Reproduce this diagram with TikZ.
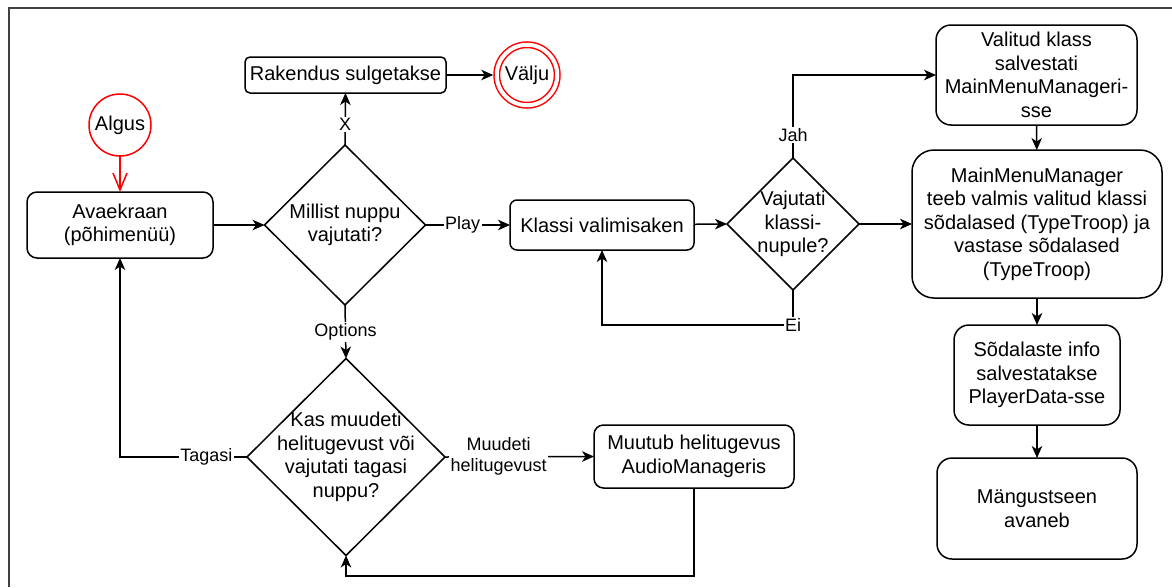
\documentclass[tikz,border=0pt]{standalone}
\usepackage{fontspec}
\setmainfont{Liberation Sans}
\usetikzlibrary{shapes.geometric,arrows.meta}
\begin{document}
\begin{tikzpicture}[x=1pt,y=-1pt,
  every node/.style={font=\fontsize{20}{23.5}\selectfont, align=center, inner sep=0pt, outer sep=0pt},
  box/.style={draw, line width=1.5pt, rectangle},
  dia/.style={draw, line width=1.5pt, diamond},
  txt/.style={},
  lab/.style={fill=white, inner sep=1.5pt, font=\fontsize{18}{21}\selectfont},
  arr/.style={line width=1.5pt, -{Stealth[length=12pt,width=10.5pt,inset=3.5pt]}},
  frame/.style={line width=1.8pt, black!75}
]
\useasboundingbox (0,0) rectangle (1172,587);
\draw[frame] (9,587) -- (9,8) -- (1172,8);

% nodes
\node[circle, draw=red, line width=1.5pt, minimum size=62pt] (alg) at (120,125) {Algus};
\node[box, rounded corners=10pt, minimum width=186pt, minimum height=66pt] (ava) at (120,225) {Avaekraan\\(põhimenüü)};
\node[dia, minimum width=161pt, minimum height=160pt] (mil) at (345,225) {};
\node[txt] (milt) at (mil) {Millist nuppu\\vajutati?};
\node[box, rounded corners=5pt, minimum width=201pt, minimum height=36pt] (rak) at (345.5,75) {Rakendus sulgetakse};
\node[circle, draw=red, line width=1.5pt, double, double distance=4pt, minimum size=60.5pt, outer sep=3.5pt] (val) at (527,75) {Välju};
\node[box, rounded corners=7pt, minimum width=184pt, minimum height=50pt] (kv) at (602,225) {Klassi valimisaken};
\node[dia, minimum width=132pt, minimum height=132pt] (vaj) at (793,224) {};
\node[txt] (vajt) at (vaj) {Vajutati\\klassi-\\nupule?};
\node[box, rounded corners=15pt, minimum width=201pt, minimum height=100pt] (vk) at (1036.5,75) {Valitud klass\\salvestati\\MainMenuManageri-\\sse};
\node[box, rounded corners=22pt, minimum width=250pt, minimum height=148pt] (mm) at (1037,224) {MainMenuManager\\teeb valmis valitud klassi\\sõdalased (TypeTroop) ja\\vastase sõdalased\\(TypeTroop)};
\node[box, rounded corners=15pt, minimum width=166pt, minimum height=100pt] (sd) at (1037,375) {Sõdalaste info\\salvestatakse\\PlayerData-sse};
\node[box, rounded corners=15pt, minimum width=200pt, minimum height=101pt] (mg) at (1037,508.5) {Mängustseen\\avaneb};
\node[dia, minimum width=198pt, minimum height=197pt] (kas) at (346,457) {};
\node[txt] (kast) at (kas) {Kas muudeti\\helitugevust või\\vajutati tagasi\\nuppu?};
\node[box, rounded corners=9.5pt, minimum width=200pt, minimum height=63pt] (mu) at (694,456.5) {Muutub helitugevus\\AudioManageris};

% connectors
\draw[line width=1.5pt, red, -{Straight Barb[length=17pt,width=14pt]}] (alg) -- (ava);
\draw[arr] (ava) -- (mil.west);
\draw[arr] (mil.north) -- node[lab, pos=0.4]{X} (rak.south);
\draw[arr] (rak) -- (val);
\draw[arr] (mil.east) -- node[lab, pos=0.44]{Play} (kv.west);
\draw[arr] (kv) -- (vaj.west);
\draw[arr] (vaj.north) |- node[lab, pos=0.14]{Jah} (vk.west);
\draw[arr] (vaj.east) -- (mm.west);
\draw[arr] (vaj.south) -- ++(0,35) node[lab]{Ei} -| (kv.south);
\draw[arr] (vk) -- (mm);
\draw[arr] (mm) -- (sd);
\draw[arr] (sd) -- (mg);
\draw[arr] (mil.south) -- node[lab]{Options} (kas.north);
\draw[arr] (kas.west) -| node[lab, pos=0.16]{Tagasi} (ava.south);
\draw[arr] (kas.east) -- node[lab, pos=0.36]{Muudeti\\helitugevust} (mu.west);
\draw[arr] (mu.south) -- ++(0,88) -| (kas.south);
\end{tikzpicture}
\end{document}
